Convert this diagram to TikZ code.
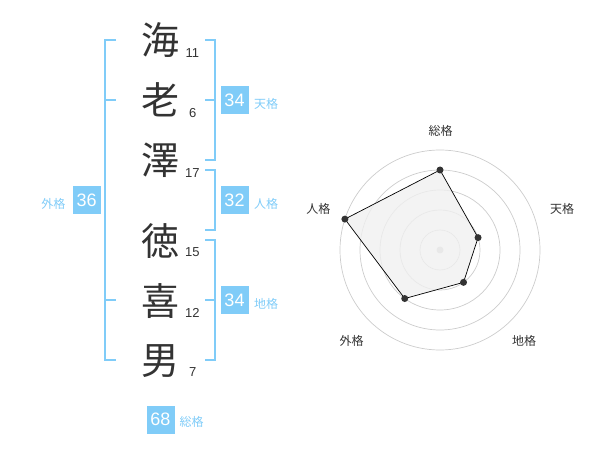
\documentclass[tikz,border=0pt]{standalone}
\usepackage{fontspec}
\usetikzlibrary{calc}
\setmainfont{Liberation Sans}
\newfontfamily\jp{Noto Sans CJK JP}
\definecolor{sky}{RGB}{128,204,248}
\definecolor{ink}{RGB}{51,51,51}
\definecolor{ring}{RGB}{204,204,204}
\definecolor{area}{RGB}{240,240,240}
\begin{document}
\begin{tikzpicture}[x=1bp,y=-1bp,
  kanji/.style={font=\jp\fontsize{38bp}{38bp}\selectfont, text=ink, inner sep=0},
  strokes/.style={font=\fontsize{13bp}{13bp}\selectfont, text=ink, inner sep=0},
  scorebox/.style={fill=sky, text=white, minimum width=28bp, minimum height=28bp, inner sep=0, font=\fontsize{18bp}{18bp}\selectfont},
  scorelbl/.style={text=sky, font=\jp\fontsize{12bp}{12bp}\selectfont, inner sep=0},
  brk/.style={draw=sky, line width=2bp, line join=miter},
  ringline/.style={draw=ring, line width=0.7bp},
  axislbl/.style={text=ink, font=\jp\fontsize{12bp}{12bp}\selectfont, inner sep=0},
  dot/.style={fill=ink, draw=none, circle, minimum size=7bp, inner sep=0},
]
\useasboundingbox (0,0) rectangle (600,470);

% name characters
\node[kanji] (k1) at (160,40) {海};
\node[kanji] (k2) at (160,100) {老};
\node[kanji] (k3) at (160,160) {澤};
\node[kanji] (k4) at (160,241) {徳};
\node[kanji] (k5) at (160,301) {喜};
\node[kanji] (k6) at (160,361) {男};

% stroke counts
\node[strokes] (s1) at (192.3,53) {11};
\node[strokes] (s2) at (192.7,113) {6};
\node[strokes] (s3) at (192.3,173) {17};
\node[strokes] (s4) at (192.3,252.5) {15};
\node[strokes] (s5) at (192.3,312.5) {12};
\node[strokes] (s6) at (192.7,372.5) {7};

% brackets
\draw[brk] (116,40) -- (105,40) -- (105,360) -- (116,360);
\draw[brk] (105,100) -- (116,100);
\draw[brk] (105,300) -- (116,300);
\draw[brk] (205,40) -- (215,40) -- (215,160) -- (205,160);
\draw[brk] (205,100) -- (215,100);
\draw[brk] (205,170) -- (215,170) -- (215,230) -- (205,230);
\draw[brk] (205,240) -- (215,240) -- (215,360) -- (205,360);
\draw[brk] (205,300) -- (215,300);

% score boxes
\node[scorebox] (ten) at (234.5,100.3) {34};
\node[scorelbl] (tenl) at (266,104) {天格};
\node[scorebox] (jin) at (234.5,200.5) {32};
\node[scorelbl] (jinl) at (266,204) {人格};
\node[scorebox] (chi) at (234.5,300.3) {34};
\node[scorelbl] (chil) at (266,304) {地格};
\node[scorebox] (gai) at (86.7,200.3) {36};
\node[scorelbl] (gail) at (53.3,204) {外格};
\node[scorebox] (sou) at (160.5,419.5) {68};
\node[scorelbl] (soul) at (191.7,422.3) {総格};

% radar chart
\coordinate (c) at (440,250);
\foreach \r in {20,40,60,80,100}
  \draw[ringline] (c) circle[radius=\r bp];
\fill[ring] (c) circle[radius=3.5bp];
\coordinate (p1) at ($(c)+(90:80bp)$);
\coordinate (p2) at ($(c)+(18:40bp)$);
\coordinate (p3) at ($(c)+(-54:40bp)$);
\coordinate (p4) at ($(c)+(-126:60bp)$);
\coordinate (p5) at ($(c)+(162:100bp)$);
\filldraw[fill=area, fill opacity=0.8, draw=black, line width=0.7bp] (p1) -- (p2) -- (p3) -- (p4) -- (p5) -- cycle;
\foreach \p in {p1,p2,p3,p4,p5}
  \node[dot] at (\p) {};
\node[axislbl] (a1) at (440.7,130.5) {総格};
\node[axislbl] (a2) at (562,208.7) {天格};
\node[axislbl] (a3) at (524,340.7) {地格};
\node[axislbl] (a4) at (351.7,340.7) {外格};
\node[axislbl] (a5) at (318.3,208.7) {人格};
\end{tikzpicture}
\end{document}
